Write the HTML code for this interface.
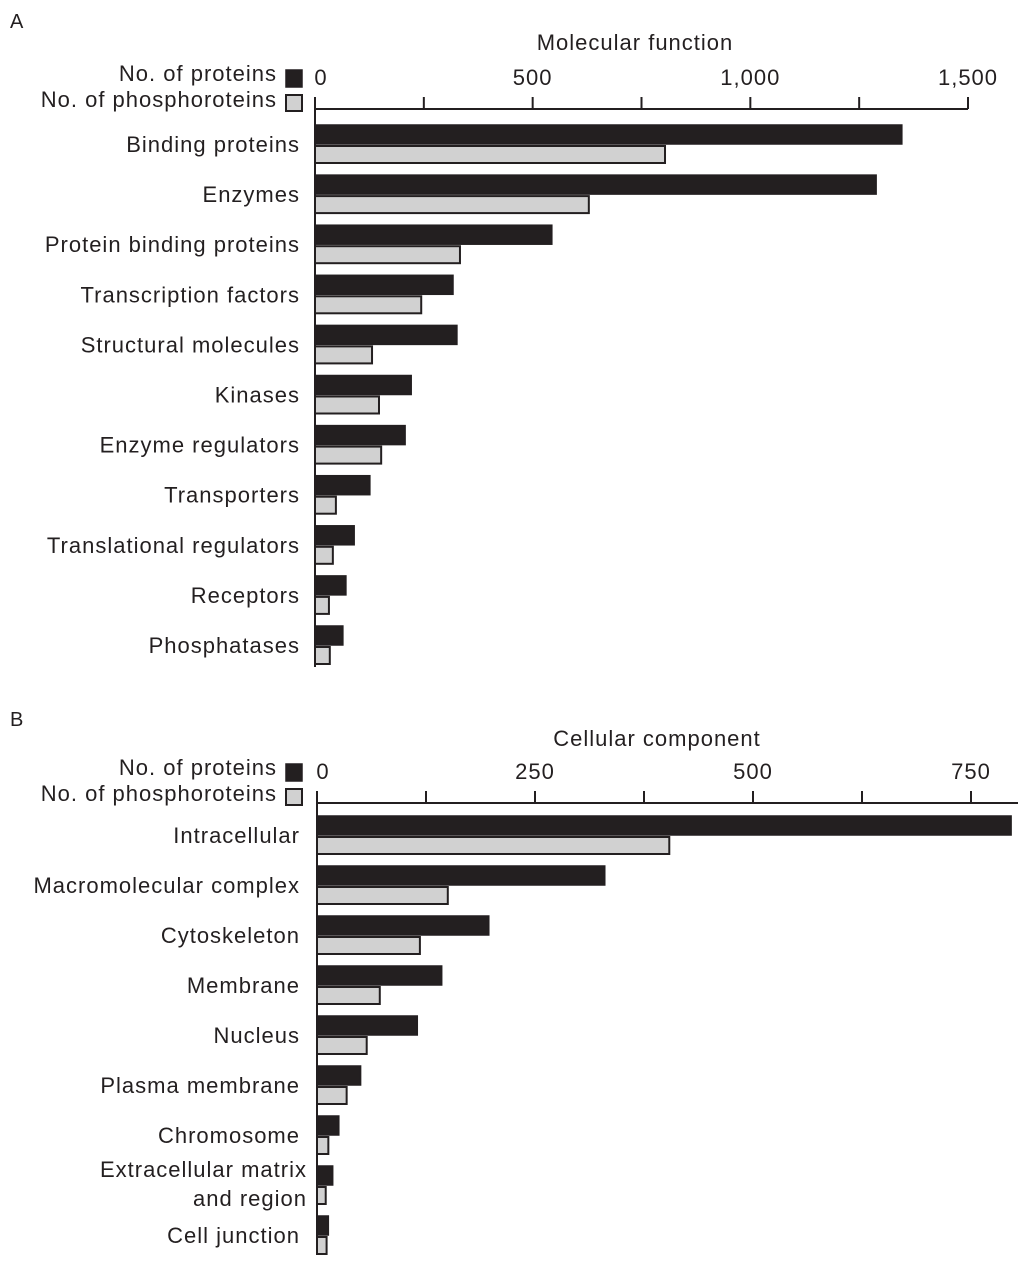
<!DOCTYPE html>
<html><head><meta charset="utf-8"><style>
body{margin:0;background:#fff}
svg{display:block;font-family:"Liberation Sans",Arial,sans-serif}
text{fill:#231f20;letter-spacing:1px}
</style></head><body>
<svg id="chart" width="1031" height="1277" xmlns="http://www.w3.org/2000/svg"></svg>
<script>
const catsA=["Binding proteins","Enzymes","Protein binding proteins","Transcription factors","Structural molecules","Kinases","Enzyme regulators","Transporters","Translational regulators","Receptors","Phosphatases"];
const protA=[1348,1289,544,317,326,221,207,126,90,71,64];
const phosA=[804,629,333,244,131,147,152,48,41,32,34];
const ticksA=[0,250,500,750,1000,1250,1500];
const tickLabelsA=["0","","500","","1,000","","1,500"];
const catsB=["Intracellular","Macromolecular complex","Cytoskeleton","Membrane","Nucleus","Plasma membrane","Chromosome","Extracellular matrix|and region","Cell junction"];
const protB=[796,330,197,143,115,50,25,18,13];
const phosB=[404,150,118,72,57,34,13,10,11];
const ticksB=[0,125,250,375,500,625,750];
const tickLabelsB=["0","","250","","500","","750"];

const svg=document.getElementById('chart');
const NS="http://www.w3.org/2000/svg";
function mk(tag,attrs,name,txt){const e=document.createElementNS(NS,tag);for(const k in attrs)e.setAttribute(k,attrs[k]);


if(txt!==undefined)e.textContent=txt;svg.appendChild(e);return e;}

function panel(p){
  const x=v=>p.x0+v*p.scale;
  mk('text',{x:10,y:p.letterY,'font-size':20,style:'letter-spacing:0'},'panel-label-'+p.id,p.id);
  mk('text',{x:p.titleX,y:p.titleY,'font-size':22,'text-anchor':'middle'},'x-axis-title-'+p.id,p.title);
  mk('text',{x:277,y:p.axisY-28,'font-size':22,'text-anchor':'end'},'legend-proteins-label-'+p.id,'No. of proteins');
  mk('rect',{x:286,y:p.axisY-39,width:16,height:17,fill:'#231f20',stroke:'#231f20','stroke-width':1.5},'legend-proteins-swatch-'+p.id);
  mk('text',{x:277,y:p.axisY-2,'font-size':22,'text-anchor':'end'},'legend-phospho-label-'+p.id,'No. of phosphoroteins');
  mk('rect',{x:286,y:p.axisY-14,width:16,height:16,fill:'#d1d1d1',stroke:'#231f20','stroke-width':2},'legend-phospho-swatch-'+p.id);
  mk('line',{x1:p.x0,y1:p.axisY,x2:p.axisEnd,y2:p.axisY,stroke:'#231f20','stroke-width':2},'x-axis-line-'+p.id);
  mk('line',{x1:p.x0,y1:p.axisY-12,x2:p.x0,y2:p.axisBottom,stroke:'#231f20','stroke-width':2},'y-axis-line-'+p.id);
  p.ticks.forEach((t,i)=>{
    mk('line',{x1:x(t),y1:p.axisY-12,x2:x(t),y2:p.axisY,stroke:'#231f20','stroke-width':2},'x-tick-'+p.id+'-'+i);
    if(p.tickLabels[i]) mk('text',{x:i===0?x(t)+6:x(t),y:p.axisY-24,'font-size':22,'text-anchor':'middle'},'x-tick-label-'+p.id+'-'+i,p.tickLabels[i]);
  });
  p.cats.forEach((c,i)=>{
    const yc=p.firstY+i*p.step;
    mk('rect',{x:p.x0,y:yc-20,width:x(p.prot[i])-p.x0,height:19,fill:'#231f20',stroke:'#231f20','stroke-width':1.5},'bar-proteins-'+i);
    mk('rect',{x:p.x0,y:yc+1,width:x(p.phos[i])-p.x0,height:17,fill:'#d1d1d1',stroke:'#231f20','stroke-width':2},'bar-phospho-'+i);
    const parts=c.split('|');
    if(parts.length===1) mk('text',{x:300,y:yc+7,'font-size':22,'text-anchor':'end'},'category-label-'+i,c);
    else {mk('text',{x:307,y:yc-9,'font-size':22,'text-anchor':'end'},'category-label-'+i+'-a',parts[0]);
          mk('text',{x:307,y:yc+20,'font-size':22,'text-anchor':'end'},'category-label-'+i+'-b',parts[1]);}
  });
}
panel({id:'A',title:'Molecular function',titleX:635,x0:315,scale:653/1500,axisY:109,axisEnd:968,axisBottom:667,letterY:28,titleY:50,
  ticks:ticksA,tickLabels:tickLabelsA,cats:catsA,prot:protA,phos:phosA,firstY:145,step:50.1});
panel({id:'B',title:'Cellular component',titleX:657,x0:317,scale:654/750,axisY:803,axisEnd:1018,axisBottom:1255,letterY:726,titleY:746,
  ticks:ticksB,tickLabels:tickLabelsB,cats:catsB,prot:protB,phos:phosB,firstY:836,step:50});
</script>
</body></html>
